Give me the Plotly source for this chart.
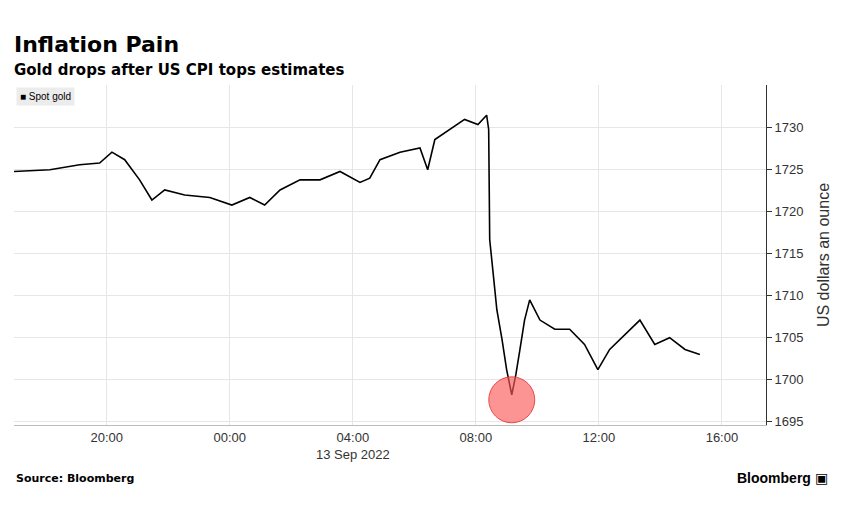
import plotly.graph_objects as go

times = ["16:59","18:09","19:07","19:46","20:10","20:35","21:04","21:28","21:53","22:32","23:21",
         "00:04","00:39","01:08","01:38","02:17","02:56","03:35","04:14","04:33","04:53","05:32",
         "06:11","06:26","06:40","07:09","07:38","08:04","08:21","08:25","08:27","08:33","08:41",
         "08:51","09:00","09:10","09:18","09:26","09:35","09:45","10:05","10:34","11:03","11:32",
         "11:58","12:21","12:51","13:20","13:49","14:18","14:48","15:17"]
prices = [1724.8,1725.0,1725.6,1725.8,1727.1,1726.2,1723.8,1721.4,1722.6,1722.0,1721.7,
          1720.8,1721.7,1720.8,1722.6,1723.8,1723.8,1724.8,1723.5,1724.0,1726.2,1727.1,
          1727.6,1725.0,1728.6,1729.8,1731.0,1730.4,1731.5,1729.8,1716.7,1713.1,1708.3,
          1704.8,1701.2,1698.2,1700.6,1703.6,1707.1,1709.5,1707.1,1706.0,1706.0,1704.2,
          1701.2,1703.6,1705.4,1707.1,1704.2,1705.0,1703.6,1703.0]
dates = ["2022-09-12 " + t if int(t[:2]) >= 16 else "2022-09-13 " + t for t in times]
low_time = ["2022-09-13 09:10"]
low_price = [1697.6]
yticks = [1695,1700,1705,1710,1715,1720,1725,1730]
xticks = ["2022-09-12 20:00","2022-09-13 00:00","2022-09-13 04:00","2022-09-13 08:00","2022-09-13 12:00","2022-09-13 16:00"]
xlabels = ["20:00","00:00","04:00<br>13 Sep 2022","08:00","12:00","16:00"]

bold = "DejaVu Sans"
fig = go.Figure()
fig.add_trace(go.Scatter(x=dates, y=prices, mode="lines", line=dict(color="black", width=1.6),
                         name="Spot gold", showlegend=False))
fig.add_trace(go.Scatter(x=low_time, y=low_price, mode="markers", showlegend=False,
                         marker=dict(size=46, color="rgba(250,90,90,0.65)", line=dict(color="rgba(230,60,60,0.9)", width=1))))
fig.update_layout(
    width=828, height=516, plot_bgcolor="white", paper_bgcolor="white",
    margin=dict(l=6, r=70, t=77, b=99),
    font=dict(family="Liberation Sans, Arial", color="black"),
    xaxis=dict(range=["2022-09-12 16:59","2022-09-13 17:26"], tickvals=xticks, ticktext=xlabels,
               showgrid=True, gridcolor="#e6e6e6", zeroline=False, showline=True, linecolor="#bbb",
               tickfont=dict(size=13, color="#333")),
    yaxis=dict(range=[1694.6,1735.1], side="right", tickvals=yticks, showgrid=True, gridcolor="#e6e6e6",
               ticks="outside", ticklen=5, tickcolor="#333", showline=True, linecolor="#333",
               tickfont=dict(size=13, color="#333"),
               title=dict(text="US dollars an ounce", font=dict(size=16, color="#333"))),
)
fig.add_annotation(text="<b>Inflation Pain</b>", xref="paper", yref="paper", x=-0.003, y=1.118,
                   xanchor="left", yanchor="middle", showarrow=False, font=dict(size=22, family=bold))
fig.add_annotation(text="<b>Gold drops after US CPI tops estimates</b>", xref="paper", yref="paper", x=-0.003, y=1.044,
                   xanchor="left", yanchor="middle", showarrow=False, font=dict(size=15, family=bold))
fig.add_annotation(text="■ Spot gold", xref="paper", yref="paper", x=0.003, y=0.995, xanchor="left", yanchor="top",
                   showarrow=False, font=dict(size=10), bgcolor="#ececec", borderpad=3)
fig.add_annotation(text="<b>Source: Bloomberg</b>", xref="paper", yref="paper", x=0.0, y=-0.156,
                   xanchor="left", yanchor="middle", showarrow=False, font=dict(size=11, family=bold))
fig.add_annotation(text="<b>Bloomberg</b> ▣", xref="paper", yref="paper", x=1.085, y=-0.156,
                   xanchor="right", yanchor="middle", showarrow=False, font=dict(size=14))
fig.write_html("out.html")
